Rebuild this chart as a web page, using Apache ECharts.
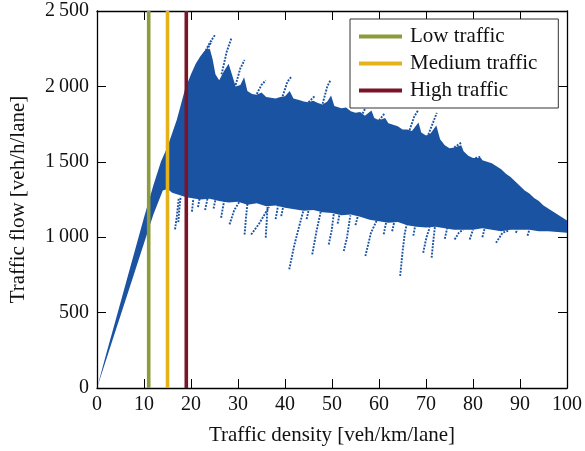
<!DOCTYPE html>
<html><head><meta charset="utf-8">
<script src="https://cdn.jsdelivr.net/npm/echarts@6/dist/echarts.min.js"></script>
<style>html,body{margin:0;padding:0;background:#fff}#c{width:585px;height:451px}</style>
</head><body><div id="c"></div>
<script>
// ---- data ----
const xTicks = [0,10,20,30,40,50,60,70,80,90,100];
const yTickLabels = ['0','500','1\u2009000','1\u2009500','2\u2009000','2\u2009500'];
const regimeNames = ['Low traffic','Medium traffic','High traffic'];
const regimeDensity = [11, 15, 19];
const regimeColors = ['#8C9B3B','#E6B21A','#7A1529'];

// upper edge of the dense point cloud [density, flow]
const upperEdge = [[0,0],[2,230],[4,455],[6,680],[8,905],[10,1130],[12,1345],[13.6,1500],[15,1600],[17,1780],[18.7,1977],[20,2080],[21,2150],[22,2200],[23,2240],[24,2250],[24.6,2180],[25.2,2080],[26,2040],[27,2100],[28,2150],[28.7,2080],[29.5,2000],[30.5,2010],[31.3,2060],[32,1970],[33,1950],[34,1945],[35,1960],[36,1930],[37,1925],[38,1920],[39,1930],[40,1935],[41,1970],[41.8,1920],[43,1910],[44,1900],[45,1895],[46,1905],[47,1890],[48,1880],[49,1900],[49.8,1940],[50.5,1870],[52,1855],[53,1860],[54,1835],[55,1825],[56,1830],[57,1805],[58.4,1840],[59,1790],[60,1775],[61.3,1790],[62,1755],[63,1745],[64,1735],[65,1715],[66,1715],[67,1705],[68.4,1760],[69,1695],[70,1675],[71,1690],[72.2,1740],[73,1650],[74,1610],[75,1590],[76,1595],[77.5,1610],[78,1570],[79,1540],[80,1525],[81.7,1525],[82,1510],[83,1500],[84,1490],[85,1470],[86,1450],[87,1420],[88,1400],[89,1370],[90,1340],[91,1310],[92,1290],[93,1260],[94,1240],[95,1210],[96,1190],[97,1170],[98,1150],[99,1130],[100,1110]];

// lower edge of the dense point cloud [density, flow]
const lowerEdge = [[0,0],[2,192],[4,384],[6,576],[8,768],[10,960],[12,1150],[14,1310],[15,1320],[16,1295],[17,1285],[18,1275],[19,1265],[20,1260],[22,1250],[24,1255],[26,1240],[28,1230],[30,1235],[32,1215],[34,1225],[36,1205],[38,1210],[40,1195],[42,1185],[44,1175],[46,1180],[48,1165],[50,1160],[52,1145],[54,1150],[56,1135],[58,1115],[60,1105],[62,1095],[64,1100],[66,1080],[68,1070],[70,1065],[72,1070],[74,1060],[76,1050],[78,1050],[80,1050],[82,1060],[84,1050],[86,1040],[88,1050],[90,1050],[92,1050],[94,1040],[96,1040],[98,1035],[100,1030]];

// dotted trails hanging below the cloud [density, flow]
const lowTrails = [
  [[16.6,1052],[17.0,1140],[17.4,1260]],
  [[17.3,1100],[17.5,1180],[17.8,1270]],
  [[20.2,1170],[20.5,1255]],
  [[21.5,1200],[21.8,1255]],
  [[23.0,1180],[23.5,1255]],
  [[24.8,1190],[25.2,1250]],
  [[26.4,1129],[26.8,1200],[27.1,1245]],
  [[28.2,1085],[29.2,1180],[30.3,1235]],
  [[31.4,1018],[31.7,1130],[32.0,1220]],
  [[32.8,1018],[34.5,1090],[36.6,1200]],
  [[35.9,997],[36.1,1100],[36.3,1205]],
  [[38.0,1120],[38.5,1205]],
  [[39.2,1140],[39.6,1200]],
  [[40.9,787],[42.0,950],[43.0,1070],[43.9,1175]],
  [[44.6,1120],[45.0,1175]],
  [[45.8,886],[46.7,1040],[47.6,1170]],
  [[49.3,952],[49.9,1040],[50.4,1160]],
  [[51.2,1090],[51.6,1150]],
  [[52.5,908],[53.2,1000],[53.9,1145]],
  [[55.0,1080],[55.5,1140]],
  [[57.1,875],[58.3,1030],[59.5,1110]],
  [[61.0,1020],[61.5,1095]],
  [[62.8,1040],[63.2,1095]],
  [[64.5,743],[65.0,900],[65.5,1030],[65.9,1085]],
  [[67.3,1010],[67.7,1075]],
  [[69.4,897],[70.1,1000],[70.8,1065]],
  [[71.2,864],[71.5,960],[71.9,1070]],
  [[74.0,990],[74.5,1060]],
  [[76.1,985],[77.0,1030],[77.9,1050]],
  [[79.3,985],[80.0,1050]],
  [[82.0,1000],[82.5,1060]],
  [[84.9,963],[86.3,1030],[87.7,1045]],
  [[89.1,1030],[89.5,1050]],
  [[91.6,1010],[92.0,1050]]
];

// dotted trails rising above the cloud [density, flow]
const highTrails = [
  [[22.5,2200],[24.0,2290],[25.1,2341]],
  [[23.4,2240],[24.4,2300]],
  [[26.5,2080],[27.6,2230],[28.6,2320]],
  [[29.5,2010],[30.5,2120],[31.4,2175]],
  [[34.0,1950],[35.0,2010],[35.9,2040]],
  [[39.5,1935],[40.5,2030],[41.3,2063]],
  [[45.0,1895],[46.3,1935]],
  [[48.0,1885],[49.0,2000],[49.7,2043]],
  [[56.5,1820],[57.5,1880],[58.4,1911]],
  [[60.0,1775],[61.3,1825]],
  [[66.5,1710],[67.5,1800],[68.4,1845]],
  [[70.5,1680],[71.5,1760],[72.3,1825]],
  [[76.0,1595],[77.5,1627]],
  [[80.5,1525],[81.7,1534]]
];

// ---- chart ----
const BLUE = '#1B53A3';
const FONT = 'Liberation Serif';
const chart = echarts.init(document.getElementById('c'), null, {renderer:'canvas'});

const series = [];
series.push({
  type:'custom', name:'cloud', xAxisIndex:0, yAxisIndex:0, z:2,
  data:[[0,0]], encode:{x:0,y:1}, silent:true,
  renderItem:function(params, api){
    if (params.dataIndex !== 0) return null;
    const pts = upperEdge.map(p => api.coord(p)).concat(lowerEdge.slice().reverse().map(p => api.coord(p)));
    return {type:'polygon', shape:{points:pts}, style:{fill:BLUE}};
  }
});
lowTrails.concat(highTrails).forEach((t,i) => series.push({
  type:'line', name:'trail'+i, data:t, symbol:'none', z:3, silent:true,
  lineStyle:{color:BLUE, width:1.9, type:[1.9,1.3]}
}));
regimeNames.forEach((n,i) => series.push({
  type:'line', name:n, data:[[regimeDensity[i],0],[regimeDensity[i],2500]],
  symbol:'none', z:5, silent:true, color:regimeColors[i],
  lineStyle:{color:regimeColors[i], width:3.6}
}));

const tickStyle = {show:true, inside:true, length:9, lineStyle:{color:'#000', width:1}};
chart.setOption({
  animation:false,
  backgroundColor:'#fff',
  grid:{left:96.7, right:16, top:11, bottom:62, show:false},
  legend:{
    data:regimeNames, orient:'vertical', left:350, top:19,
    icon:'rect', itemWidth:43, itemHeight:4, itemGap:6,
    padding:[7,21,7,9], borderColor:'#333', borderWidth:1, backgroundColor:'#fff',
    textStyle:{fontFamily:FONT, fontSize:21, color:'#111', lineHeight:18, padding:[0,0,0,3]},
    selectedMode:false
  },
  xAxis:[{
    type:'value', min:0, max:100, interval:10, position:'bottom',
    name:'Traffic density [veh/km/lane]', nameLocation:'middle', nameGap:37,
    nameTextStyle:{fontFamily:FONT, fontSize:21, color:'#111'},
    axisLine:{show:true, onZero:false, lineStyle:{color:'#000', width:1.3}},
    axisTick:tickStyle, splitLine:{show:false},
    axisLabel:{fontFamily:FONT, fontSize:20, color:'#111', margin:7,
      formatter:v => String(xTicks[Math.round(v/10)])}
  },{
    type:'value', min:0, max:100, interval:10, position:'top',
    axisLine:{show:true, onZero:false, lineStyle:{color:'#000', width:1.3}},
    axisTick:tickStyle, splitLine:{show:false}, axisLabel:{show:false}
  }],
  yAxis:[{
    type:'value', min:0, max:2500, interval:500, position:'left',
    name:'Traffic flow [veh/h/lane]', nameLocation:'middle', nameGap:68,
    nameTextStyle:{fontFamily:FONT, fontSize:21, color:'#111'},
    axisLine:{show:true, onZero:false, lineStyle:{color:'#000', width:1.3}},
    axisTick:tickStyle, splitLine:{show:false},
    axisLabel:{fontFamily:FONT, fontSize:20, color:'#111', margin:8,
      formatter:v => yTickLabels[Math.round(v/500)]}
  },{
    type:'value', min:0, max:2500, interval:500, position:'right',
    axisLine:{show:true, onZero:false, lineStyle:{color:'#000', width:1.3}},
    axisTick:tickStyle, splitLine:{show:false}, axisLabel:{show:false}
  }],
  series:series
});
</script></body></html>
